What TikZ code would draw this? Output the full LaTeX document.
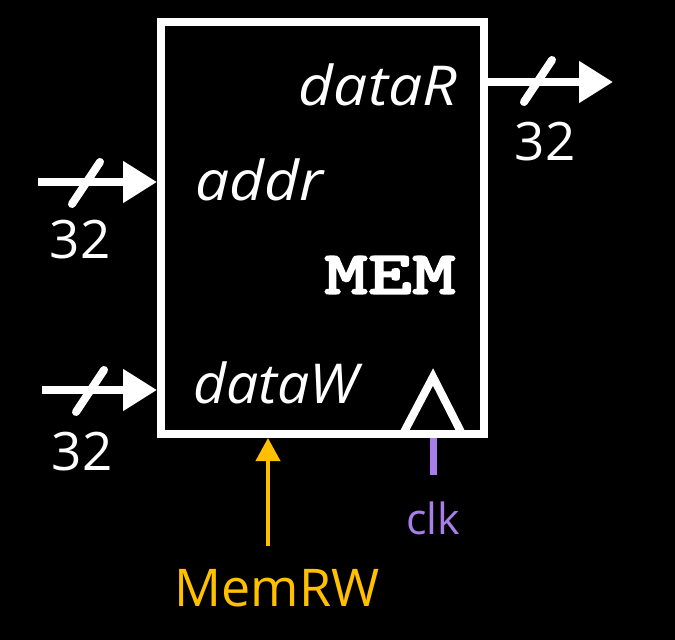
\documentclass[tikz,border=0pt]{standalone}
\usepackage{fontspec}
\setmainfont{Open Sans}
\newfontfamily\memfont{Latin Modern Mono Light}[BoldFeatures={FakeBold=2}]
\usetikzlibrary{arrows.meta,calc}
\definecolor{rwgold}{RGB}{255,192,0}
\definecolor{clkpurple}{RGB}{168,126,232}
% bus width mark: short slash across a bus line
\newcommand{\buscut}[1]{\draw[busmark] ($#1+(-14,21)$) -- ($#1+(14,-21)$);}
\newcommand{\wide}[1]{\scalebox{1.1}[1]{#1}}

\begin{document}
\begin{tikzpicture}[x=1pt,y=-1pt,
    bus/.style={white,line width=8pt,-{Triangle[length=34pt,width=40pt]}},
    busmark/.style={white,line width=8pt,line cap=round},
    width/.style={white,font=\fontsize{53}{56}\selectfont},
    port/.style={white,font=\fontsize{55}{58}\selectfont\itshape,inner sep=0pt}]
  \fill[black] (0,0) rectangle (675,640);
  \useasboundingbox (0,0) rectangle (675,640);
  % memory block
  \node[draw=white,line width=8pt,minimum width=323pt,minimum height=412pt,inner sep=0pt] (mem) at (322.5,228) {};
  \node[white,font=\memfont\bfseries\fontsize{62}{64}\selectfont] (memname) at (390,275) {\scalebox{1.35}[1]{MEM}};
  \node[port,anchor=base east] (dataR) at (457,105) {\wide{dataR}};
  \node[port,anchor=base west] (addr) at (195,200) {\wide{addr}};
  \node[port,anchor=base west] (dataW) at (193,403) {\scalebox{1.04}[1]{dataW}};
  % buses
  \coordinate (addrin) at (38,182);
  \coordinate (dataWin) at (42,390);
  \coordinate (dataRout) at (613,82);
  \draw[bus] (addrin) -- (addrin -| mem.west);
  \draw[bus] (dataWin) -- (dataWin -| mem.west);
  \draw[bus] (dataRout -| mem.east) -- (dataRout);
  \buscut{(86,183)}
  \buscut{(90,391)}
  \buscut{(538,81)}
  \node[width] (addrw) at (80,240) {32};
  \node[width] (dataWw) at (82,452) {32};
  \node[width] (dataRw) at (545,142) {32};
  % clock
  \draw[white,line width=8pt] (403,434) -- (433,377) -- (462,434);
  \coordinate (clkend) at (433,475);
  \draw[clkpurple,line width=7pt] (clkend) -- (clkend |- mem.south);
  \node[clkpurple,font=\fontsize{43}{46}\selectfont] (clk) at (433,518) {clk};
  % write enable
  \coordinate (rwend) at (268,546);
  \draw[rwgold,line width=4pt,-{Triangle[length=23pt,width=24pt]}] (rwend) -- (rwend |- mem.south);
  \node[rwgold,font=\fontsize{52}{56}\selectfont] (memrw) at (277,588) {MemRW};
\end{tikzpicture}
\end{document}
